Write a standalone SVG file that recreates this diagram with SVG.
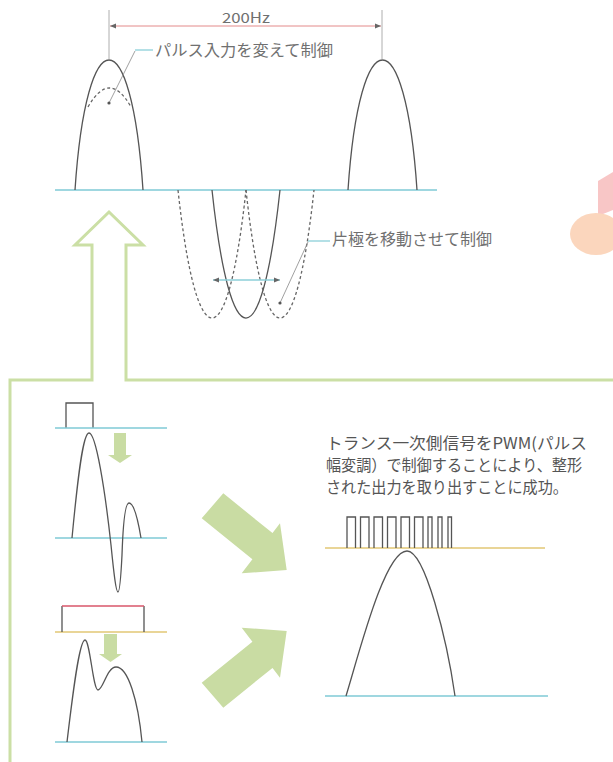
<svg xmlns="http://www.w3.org/2000/svg" width="613" height="762" viewBox="0 0 613 762">
<defs>
<style>
.wave{fill:none;stroke:#555;stroke-width:1.3}
.dash{fill:none;stroke:#666;stroke-width:1.3;stroke-dasharray:3 2.5}
.base{fill:none;stroke:#7fcad6;stroke-width:1.5}
.baseY{fill:none;stroke:#e2c775;stroke-width:1.5}
.thin{fill:none;stroke:#999;stroke-width:0.8}
.lead{fill:none;stroke:#8ccfd8;stroke-width:1.3}
.gline{fill:none;stroke:#888;stroke-width:0.8}
.flow{fill:#c9dca3}
.frame{fill:none;stroke:#cbdfa5;stroke-width:3}
.lbl{font-family:"Noto Sans CJK JP","Noto Sans",sans-serif;fill:#707070}
.txt{font-family:"Noto Sans CJK JP","Noto Sans",sans-serif;fill:#555}
</style>
<marker id="ah" viewBox="0 0 10 10" refX="10" refY="5" markerWidth="7" markerHeight="6" orient="auto-start-reverse" markerUnits="userSpaceOnUse"><path d="M0,1 L10,5 L0,9 z" fill="#666"/></marker>
</defs>
<rect width="613" height="762" fill="#ffffff"/>

<g id="decoration">
<polygon points="598,181 613,172 613,210 598,216" fill="#f8c6c6"/>
<ellipse cx="596" cy="234" rx="26" ry="21" fill="#fbd6bd"/>
</g>

<g id="top-waveform">
<line class="base" x1="55" y1="190" x2="437" y2="190"/>
<path class="wave" d="M75,190 C86.6,16.7 131.4,16.7 143,190"/>
<path class="dash" d="M88,107 Q109.5,69 131,107"/>
<path class="wave" d="M348,190 C359.7,16.7 405.3,16.7 417,190"/>
<path class="wave" d="M212,190 C230.4,360.7 261.6,360.7 280,190"/>
<path class="dash" d="M178,190 C196.4,360.7 227.6,360.7 246,190"/>
<path class="dash" d="M246,190 C264.4,360.7 295.6,360.7 314,190"/>
</g>

<g id="dimension-200Hz">
<line class="thin" x1="109" y1="10" x2="109" y2="60"/>
<line class="thin" x1="382" y1="10" x2="382" y2="60"/>
<line x1="110" y1="26" x2="381" y2="26" stroke="#e38a8a" stroke-width="1" marker-start="url(#ah)" marker-end="url(#ah)"/>
<text class="lbl" x="246" y="23" font-size="14" text-anchor="middle" textLength="48" lengthAdjust="spacingAndGlyphs" fill="#666">200Hz</text>
</g>

<g id="label-pulse">
<line class="lead" x1="135" y1="50" x2="153" y2="50"/>
<line class="gline" x1="135" y1="51" x2="109" y2="103"/>
<circle cx="109" cy="103" r="1.6" fill="#555"/>
<text class="lbl" x="155" y="56" font-size="15.5" textLength="178" lengthAdjust="spacingAndGlyphs">パルス入力を変えて制御</text>
</g>

<g id="label-pole">
<line x1="213" y1="280" x2="280" y2="280" stroke="#8ccfd8" stroke-width="1.3" marker-start="url(#ah)" marker-end="url(#ah)"/>
<line class="lead" x1="308" y1="241" x2="330" y2="241"/>
<line class="gline" x1="308" y1="242" x2="280" y2="303"/>
<circle cx="280" cy="303" r="1.6" fill="#555"/>
<text class="lbl" x="332" y="245" font-size="16" textLength="160" lengthAdjust="spacingAndGlyphs">片極を移動させて制御</text>
</g>

<g id="frame">
<path class="frame" d="M10,762 V380 H92 V245 H75 L109,212 L143,245 H126 V380 H613"/>
</g>

<g id="input-single-pulse">
<path class="wave" d="M66,428 V403 H93 V428"/>
<line class="base" x1="55" y1="428" x2="167" y2="428" stroke="#88c6cc"/>
<polygon class="flow" points="114,433 126,433 126,455 132,455 120,463 108,455 114,455"/>
<line class="base" x1="55" y1="538" x2="167" y2="538"/>
<path class="wave" d="M72,538 C78,475 83,433 89,433 C96,433 105,490 111,545 C114,575 116,592 118,592 C120,592 121,575 122,555 C123,525 125,503 129,503 C134,503 138,520 141,538"/>
</g>

<g id="input-wide-pulse">
<line class="baseY" x1="55" y1="632" x2="167" y2="632"/>
<path class="wave" d="M62,632 V606 M144,606 V632"/>
<line x1="62" y1="606" x2="144" y2="606" stroke="#d9566a" stroke-width="1.4"/>
<polygon class="flow" points="104,634 117,634 117,654 122,654 110.5,662 99,654 104,654"/>
<line class="base" x1="55" y1="742" x2="167" y2="742"/>
<path class="wave" d="M67,742 C72,700 79,640 85,640 C90,640 93,690 98,690 C103,690 107,667 116,667 C128,667 138,700 142,742"/>
</g>

<g id="connectors">
<polygon class="flow" points="223.3,493.3 272.5,533.1 280,523.3 286.7,570 241.7,573.3 252.4,559.2 201.7,518.3"/>
<polygon class="flow" points="223.3,707.7 272.5,667.9 280,677.7 286.7,631 241.7,627.7 252.4,641.8 201.7,682.7"/>
</g>

<g id="description">
<text class="txt" x="326" y="449" font-size="16" textLength="261" lengthAdjust="spacingAndGlyphs">トランス一次側信号をPWM(パルス</text>
<text class="txt" x="326" y="471" font-size="16" textLength="256" lengthAdjust="spacingAndGlyphs">幅変調）で制御することにより、整形</text>
<text class="txt" x="326" y="493" font-size="16" textLength="242" lengthAdjust="spacingAndGlyphs">された出力を取り出すことに成功。</text>
</g>

<g id="pwm-output">
<line class="baseY" x1="325" y1="548" x2="545" y2="548"/>
<path class="wave" stroke-width="1.1" d="M347,548 V517 H355.5 V548 M360.5,548 V517 H369 V548 M374,548 V517 H382.5 V548 M387.5,548 V517 H396 V548 M401,548 V517 H409.5 V548 M414.5,548 V517 H423 V548 M428,548 V517 H432 V548 M438,548 V517 H442 V548 M448,548 V517 H451.5 V548"/>
<line class="base" x1="325" y1="696" x2="548" y2="696"/>
<path class="wave" d="M346,696 C360,650 385,551 407,551 C425,551 447,640 455,696"/>
</g>
</svg>
